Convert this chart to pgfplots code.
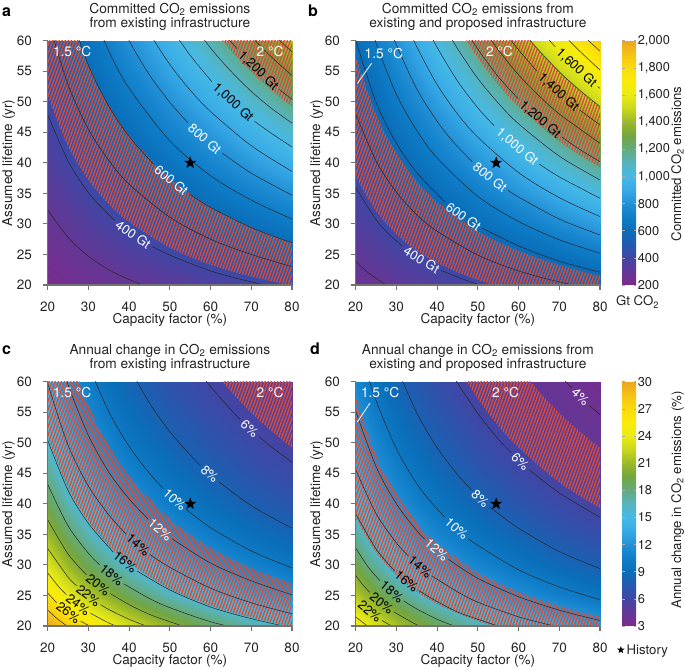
\documentclass[border=0pt]{standalone}
\usepackage{pgfplots}
\pgfplotsset{compat=1.18}
\usepackage{fontspec}
\setmainfont{TeX Gyre Heros}
\usetikzlibrary{patterns.meta}
\definecolor{txt}{RGB}{35,35,35}
\definecolor{axgray}{RGB}{115,115,115}
\definecolor{hatch}{RGB}{212,78,58}
\pgfdeclareplotmark{fstar}{%
  \pgfpathmoveto{\pgfpointpolar{90}{\pgfplotmarksize}}%
  \pgfpathlineto{\pgfpointpolar{126}{0.4\pgfplotmarksize}}%
  \pgfpathlineto{\pgfpointpolar{162}{\pgfplotmarksize}}%
  \pgfpathlineto{\pgfpointpolar{198}{0.4\pgfplotmarksize}}%
  \pgfpathlineto{\pgfpointpolar{234}{\pgfplotmarksize}}%
  \pgfpathlineto{\pgfpointpolar{270}{0.4\pgfplotmarksize}}%
  \pgfpathlineto{\pgfpointpolar{306}{\pgfplotmarksize}}%
  \pgfpathlineto{\pgfpointpolar{342}{0.4\pgfplotmarksize}}%
  \pgfpathlineto{\pgfpointpolar{18}{\pgfplotmarksize}}%
  \pgfpathlineto{\pgfpointpolar{54}{0.4\pgfplotmarksize}}%
  \pgfpathclose\pgfusepathqfill}
\pgfplotsset{
 colormap={nat}{rgb255=(125,42,140) rgb255=(100,55,150) rgb255=(65,70,165) rgb255=(35,90,175) rgb255=(10,110,185) rgb255=(15,125,200) rgb255=(35,145,215) rgb255=(55,170,230) rgb255=(70,185,230) rgb255=(85,180,190) rgb255=(100,170,125) rgb255=(115,165,65) rgb255=(155,185,40) rgb255=(200,215,30) rgb255=(235,235,20) rgb255=(250,235,10) rgb255=(250,220,10) rgb255=(245,195,20) rgb255=(235,165,35)},
 panel/.style={scale only axis, width=244.3pt, height=244.3pt,
  xmin=20, xmax=80, ymin=20, ymax=60, xtick={20,30,...,80}, ytick={20,25,...,60},
  axis lines*=left, axis line style={-, axgray, line width=1.3pt},
  tick style={axgray, line width=1.1pt}, tick align=outside, major tick length=5pt,
  axis on top, colormap name=nat,
  xlabel={Capacity factor (\%)}, ylabel={Assumed lifetime (yr)},
  label style={font=\fontsize{13.5}{14}\selectfont, text=txt},
  xlabel style={at={(axis description cs:0.5,-0.156)}, anchor=base},
  ylabel style={at={(axis description cs:-0.16,0.5)}, anchor=center},
  ticklabel style={font=\fontsize{13.5}{14}\selectfont, text=txt, inner sep=0pt},
  xticklabel style={anchor=north, yshift=-11.5pt},
  yticklabel style={anchor=east, xshift=-10.5pt},
  every axis title/.style={at={(0.5,1)}, anchor=south, inner sep=0pt, yshift=10.2pt, align=center, font=\fontsize{13.7}{14.3}\selectfont, text=txt},
  /pgf/number format/assume math mode=true},
 cbar/.style={colorbar, colorbar style={at={(parent axis.north east)}, anchor=north west, xshift=13.6pt, width=14pt, axis line style={draw=none}, tick align=inside, major tick length=2.5pt, tick style={axgray!60, line width=0.6pt}, scaled y ticks=false, yticklabel style={font=\fontsize{12.8}{14}\selectfont, text=txt, inner sep=0pt, xshift=1.5pt, anchor=west}, /pgf/number format/assume math mode=true, /pgf/number format/1000 sep={,}}},
 cl/.style={black!85, line width=0.5pt, smooth, no markers, forget plot},
 hatch/.style={draw=none, smooth, pattern={Lines[angle=70,distance=2.9pt,line width=1.35pt]}, pattern color=hatch, forget plot},
 heat/.style={surf, shader=interp, point meta=\thisrow{v}, forget plot},
}
\newcommand{\cl}[1]{\addplot[cl] coordinates {#1};}
\newcommand{\lab}[4]{\node[font=\fontsize{13}{13}\selectfont, inner sep=0pt, text=#4, rotate=#3] at (axis cs:#1) {#2};}
\newcommand{\tlab}[2]{\node[font=\fontsize{13.7}{13.7}\selectfont, inner sep=0pt, text=white] at (axis cs:#1) {#2};}
\begin{document}
\begin{tikzpicture}
\useasboundingbox (0,0) rectangle (685pt,669pt);
% ---------------- panel a
\begin{axis}[panel, at={(47.7pt,384pt)}, anchor=south west, point meta min=200, point meta max=2000,
 title={Committed CO\textsubscript{2} emissions\\from existing infrastructure}]
\addplot[heat, mesh/cols=7] table {
x y v
20 20 221.2
30 20 254.8
40 20 288.4
50 20 322.0
60 20 355.6
70 20 389.2
80 20 422.8
20 25 253.2
30 25 302.8
40 25 352.4
50 25 402.0
60 25 451.6
70 25 501.2
80 25 550.8
20 30 285.2
30 30 350.8
40 30 416.4
50 30 482.0
60 30 547.6
70 30 613.2
80 30 678.8
20 35 317.2
30 35 398.8
40 35 480.4
50 35 562.0
60 35 643.6
70 35 725.2
80 35 806.8
20 40 349.2
30 40 446.8
40 40 544.4
50 40 642.0
60 40 739.6
70 40 837.2
80 40 934.8
20 45 381.2
30 45 494.8
40 45 608.4
50 45 722.0
60 45 835.6
70 45 949.2
80 45 1062.8
20 50 413.2
30 50 542.8
40 50 672.4
50 50 802.0
60 50 931.6
70 50 1061.2
80 50 1190.8
20 55 445.2
30 55 590.8
40 55 736.4
50 55 882.0
60 55 1027.6
70 55 1173.2
80 55 1318.8
20 60 477.2
30 60 638.8
40 60 800.4
50 60 962.0
60 60 1123.6
70 60 1285.2
80 60 1446.8
};
\addplot[hatch] coordinates {(18,55.6) (20,51.0) (25,42.7) (30,37.2) (35,33.2) (40,30.3) (50,26.1) (60,23.3) (70,21.4) (80,19.9) (90,18.7) (90,25.1) (80,27.0) (70,29.5) (60,32.8) (50,37.5) (40,44.5) (35,49.5) (30,56.2) (25,65.5) (22,73.1)};
\addplot[hatch] coordinates {(52,70.65) (55,67.3) (60,62.5) (65,58.4) (70,54.9) (75,51.9) (80,49.25) (90,44.8) (100,41.3) (100,80) (52,80)};
\cl{(20,32.3) (25,27.8) (30,24.7) (35,22.5) (40,20.9) (45,19.6) (50,18.6)}
\cl{(20,47.9) (25,40.3) (30,35.1) (35,31.5) (36.4,30.6)}\cl{(45.7,26.3) (50,24.9) (60,22.3) (70,20.5) (80,19.1)}
\cl{(20,63.6) (25,52.8) (30,45.5) (35,40.4) (40,36.5) (50,31.1) (60,27.5) (70,25.0) (80,23.0)}
\cl{(25,65.3) (30,56.0) (35,49.3) (40,44.3) (46.0,39.8)}\cl{(54.8,34.9) (60,32.7) (70,29.4) (80,26.9)}
\cl{(30,66.4) (35,58.3) (40,52.2) (50,43.6) (60,37.9) (70,33.9) (80,30.8)}
\cl{(35,67.2) (40,60.0) (45,54.4) (50,49.9) (54.4,46.6)}\cl{(62.9,41.6) (70,38.3) (80,34.7)}
\cl{(40,67.8) (45,61.3) (50,56.1) (55,51.9) (60,48.4) (70,42.8) (80,38.6)}
\cl{(50,62.4) (55,57.6) (60.3,53.3)}\cl{(70.8,46.8) (75,44.8) (80,42.6)}
\cl{(55,63.3) (60,58.8) (65,55.0) (70,51.7) (75,48.9) (80,46.5)}
\cl{(60,64.0) (63.5,61.0) (66.5,58.7)}\cl{(76.9,52.0) (80,50.4)}
\cl{(65,64.6) (70,60.7) (75,57.3) (80,54.3)}
\cl{(75,61.4) (77.5,59.7) (80,58.2)}
\lab{41,28.25}{400 Gt}{-34.4}{white}
\lab{50.4,37.15}{600 Gt}{-39.4}{white}
\lab{58.6,43.95}{800 Gt}{-41.4}{white}
\lab{65.5,49.86}{1,000 Gt}{-42.7}{black}
\lab{71.7,55.09}{1,200 Gt}{-43.6}{black}
\tlab{26.0,58.2}{1.5 °C}
\tlab{74.6,58.2}{2 °C}
\addplot[only marks, mark=fstar, mark size=6.5pt, black, forget plot] coordinates {(55,40)};
\end{axis}
% ---------------- panel b
\begin{axis}[panel, at={(355.7pt,384pt)}, anchor=south west, point meta min=200, point meta max=2000,
 title={Committed CO\textsubscript{2} emissions from\\existing and proposed infrastructure},
 cbar, colorbar style={ytick={200,400,...,2000}}]
\addplot[heat, mesh/cols=7] table {
x y v
20 20 267.2
30 20 310.9
40 20 354.5
50 20 398.1
60 20 441.7
70 20 485.3
80 20 528.9
20 25 308.8
30 25 373.2
40 25 437.5
50 25 501.9
60 25 566.3
70 25 630.7
80 25 695.1
20 30 350.3
30 30 435.5
40 30 520.6
50 30 605.8
60 30 690.9
70 30 776.1
80 30 861.3
20 35 391.9
30 35 497.8
40 35 603.7
50 35 709.6
60 35 815.6
70 35 921.5
80 35 1027.4
20 40 433.4
30 40 560.1
40 40 686.8
50 40 813.5
60 40 940.2
70 40 1066.9
80 40 1193.6
20 45 474.9
30 45 622.4
40 45 769.9
50 45 917.3
60 45 1064.8
70 45 1212.3
80 45 1359.7
20 50 516.5
30 50 684.7
40 50 853.0
50 50 1021.2
60 50 1189.4
70 50 1357.7
80 50 1525.9
20 55 558.0
30 55 747.0
40 55 936.0
50 55 1125.0
60 55 1314.0
70 55 1503.0
80 55 1692.1
20 60 599.6
30 60 809.3
40 60 1019.1
50 60 1228.9
60 60 1438.7
70 60 1648.4
80 60 1858.2
};
\addplot[hatch] coordinates {(18,40.9) (20,37.75) (25,32.1) (30,28.3) (35,25.6) (40,23.6) (45,22.1) (50,20.8) (55,19.8) (60,18.9) (70,17.6) (90,15.8) (90,20.2) (80,21.5) (70,23.3) (60,25.6) (50,28.8) (40,33.6) (35,37.0) (30,41.6) (25,48.0) (20,57.65) (18,63.0)};
\addplot[hatch] coordinates {(40,69.1) (45,62.5) (50,57.2) (55,52.8) (60,49.2) (70,43.5) (80,39.3) (90,36.0) (90,44.8) (80,49.2) (75,51.9) (70,54.9) (65,58.4) (60,62.5) (55,67.3) (50,73.1)};
\cl{(20,23.9) (22.5,22.3) (25,21.1) (27.5,20.0) (30,19.1)}
\cl{(20,36.0) (25,30.7) (28.5,28.1) (31.4,26.4)}\cl{(41.0,22.4) (45,21.3) (50,20.1) (55,19.1)}
\cl{(20,48.0) (25,40.3) (30,35.2) (35,31.5) (40,28.8) (50,24.9) (60,22.3) (70,20.5) (80,19.1)}
\cl{(20,60.1) (25,49.9) (30,43.2) (35,38.4) (41.9,33.6)}\cl{(51.1,29.3) (60,26.4) (70,23.9) (80,22.1)}
\cl{(22.5,65.1) (25,59.6) (30,51.2) (35,45.3) (40,40.8) (50,34.5) (60,30.4) (70,27.4) (80,25.2)}
\cl{(27.5,63.8) (30,59.3) (35,52.1) (40,46.8) (44,43.4) (48.6,40.2)}\cl{(57.4,35.5) (60,34.4) (70,30.8) (80,28.2)}
\cl{(32.5,62.8) (35,59.0) (40,52.8) (45,48.0) (50,44.2) (60,38.4) (70,34.3) (80,31.2)}
\cl{(37.5,62.1) (40,58.9) (45,53.4) (50,49.0) (54.1,46.0)}\cl{(65.1,39.8) (70,37.7) (80,34.2)}
\cl{(42.5,61.6) (45,58.7) (50,53.8) (55,49.8) (60,46.4) (70,41.1) (80,37.2)}
\cl{(47.5,61.2) (50,58.6) (55,54.1) (59.9,50.5)}\cl{(70.7,44.2) (75,42.2) (80,40.2)}
\cl{(52.5,60.9) (55,58.5) (60,54.4) (65,51.0) (70,48.0) (80,43.2)}
\cl{(57.5,60.6) (60,58.5) (64.5,55.0)}\cl{(75.1,48.6) (80,46.2)}
\cl{(62.5,60.3) (65,58.4) (70,54.9) (75,51.9) (80,49.2)}
\cl{(67.5,60.1) (69.0,59.0)}\cl{(79.4,52.5) (80,52.2)}
\cl{(71,61.0) (75,58.3) (80,55.2)}
\cl{(76,60.8) (78,59.5) (80,58.3)}
\lab{36.2,24.13}{400 Gt}{-31.2}{white}
\lab{46.5,31.24}{600 Gt}{-35.0}{white}
\lab{53.0,37.66}{800 Gt}{-38.5}{white}
\lab{59.6,42.62}{1,000 Gt}{-39.8}{white}
\lab{65.3,47.10}{1,200 Gt}{-40.8}{black}
\lab{69.8,51.58}{1,400 Gt}{-42.1}{black}
\lab{74.2,55.57}{1,600 Gt}{-42.9}{black}
\tlab{26.9,57.9}{1.5 °C}
\tlab{55.3,58.2}{2 °C}
\addplot[white, line width=0.8pt, forget plot] coordinates {(23.9,56.3) (20.4,53.0)};
\addplot[only marks, mark=fstar, mark size=6.5pt, black, forget plot] coordinates {(54.5,40)};
\end{axis}
% ---------------- panel c
\begin{axis}[panel, at={(47.7pt,43pt)}, anchor=south west, point meta min=3, point meta max=30,
 title={Annual change in CO\textsubscript{2} emissions\\from existing infrastructure}]
\addplot[heat, mesh/cols=9] table {
x y v
20 20 30.06
25 20 27.94
30 20 26.10
35 20 24.48
40 20 23.06
50 20 20.65
60 20 18.70
70 20 17.09
80 20 15.73
20 25 26.26
25 25 23.92
30 25 21.96
35 25 20.30
40 25 18.87
50 25 16.54
60 25 14.73
70 25 13.27
80 25 12.07
20 30 23.32
25 30 20.91
30 30 18.96
35 30 17.34
40 30 15.97
50 30 13.80
60 30 12.14
70 30 10.84
80 30 9.80
20 35 20.96
25 35 18.58
30 35 16.67
35 35 15.13
40 35 13.84
50 35 11.83
60 35 10.33
70 35 9.17
80 35 8.24
20 40 19.04
25 40 16.71
30 40 14.88
35 40 13.42
40 40 12.22
50 40 10.36
60 40 8.99
70 40 7.94
80 40 7.11
20 45 17.44
25 45 15.18
30 45 13.44
35 45 12.06
40 45 10.93
50 45 9.21
60 45 7.96
70 45 7.01
80 45 6.26
20 50 16.09
25 50 13.91
30 50 12.25
35 50 10.94
40 50 9.89
50 50 8.29
60 50 7.14
70 50 6.27
80 50 5.58
20 55 14.94
25 55 12.84
30 55 11.26
35 55 10.02
40 55 9.03
50 55 7.54
60 55 6.47
70 55 5.67
80 55 5.04
20 60 13.94
25 60 11.92
30 60 10.41
35 60 9.24
40 60 8.31
50 60 6.91
60 60 5.92
70 60 5.17
80 60 4.60
};
\addplot[hatch] coordinates {(18,55.6) (20,51.0) (25,42.7) (30,37.2) (35,33.2) (40,30.3) (50,26.1) (60,23.3) (70,21.4) (80,19.9) (90,18.7) (90,25.1) (80,27.0) (70,29.5) (60,32.8) (50,37.5) (40,44.5) (35,49.5) (30,56.2) (25,65.5) (22,73.1)};
\addplot[hatch] coordinates {(52,70.65) (55,67.3) (60,62.5) (65,58.4) (70,54.9) (75,51.9) (80,49.25) (90,44.8) (100,41.3) (100,80) (52,80)};
\cl{(57.5,61.4) (60,59.2) (65,55.4) (67.3,53.8)}\cl{(71.9,51.0) (75,49.3) (80,46.8)}
\cl{(40,62.4) (45,56.5) (50,51.8) (55,48.0) (57.5,46.3)}\cl{(62.1,43.6) (70,39.7) (80,36.0)}
\cl{(30,62.7) (35,55.1) (40,49.4) (45,45.0) (48.4,42.5)}\cl{(54.0,39.1) (60,36.1) (70,32.3) (80,29.5)}
\cl{(22.5,65.1) (25,59.5) (30,51.2) (35,45.2) (40,40.8) (44.7,37.5)}\cl{(50.5,34.3) (60,30.3) (70,27.4) (80,25.1)}
\cl{(20,59.7) (25,49.6) (30,42.9) (35,38.2) (39.3,35.0)}\cl{(45.1,31.7) (50,29.6) (60,26.2) (70,23.8) (80,22.0)}
\cl{(20,50.4) (25,42.2) (30,36.8) (36.1,32.1)}\cl{(42.0,29.0) (50,25.9) (60,23.1) (70,21.2) (80,19.7)}
\cl{(20,43.2) (25,36.4) (30,31.9) (32.8,30.0)}\cl{(38.7,26.9) (45,24.5) (50,23.0) (60,20.7) (70,19.1)}
\cl{(20,37.4) (25,31.8) (29.5,28.4)}\cl{(35.4,25.3) (40,23.5) (45,21.9) (50,20.7) (55,19.6)}
\cl{(20,32.7) (25,28.0) (27.1,26.6)}\cl{(33.0,23.5) (35,22.7) (40,21.1) (45,19.8)}
\cl{(20,28.7) (22.5,26.6) (24.6,25.1)}\cl{(30.5,22.1) (35,20.5) (40,19.1)}
\cl{(20,25.4) (22.2,23.8)}\cl{(28.1,20.8) (30,20.1) (32.5,19.3)}
\cl{(20,22.6) (22.5,21.1) (25,19.9) (27.5,19.0)}
\lab{69.6,52.35}{6\%}{-42.7}{white}
\lab{59.8,44.89}{8\%}{-41.6}{white}
\lab{51.2,40.69}{10\%}{-42.4}{white}
\lab{47.6,35.77}{12\%}{-39.6}{white}
\lab{42.2,33.27}{14\%}{-40.2}{black}
\lab{39.0,30.46}{16\%}{-38.8}{black}
\lab{35.7,28.36}{18\%}{-38.4}{black}
\lab{32.4,26.72}{20\%}{-38.5}{black}
\lab{30.0,24.95}{22\%}{-37.6}{black}
\lab{27.5,23.49}{24\%}{-37.3}{black}
\lab{25.1,22.17}{26\%}{-37.1}{black}
\tlab{26.0,58.2}{1.5 °C}
\tlab{74.6,58.2}{2 °C}
\addplot[only marks, mark=fstar, mark size=6.5pt, black, forget plot] coordinates {(55,40)};
\end{axis}
% ---------------- panel d
\begin{axis}[panel, at={(355.7pt,43pt)}, anchor=south west, point meta min=3, point meta max=30,
 title={Annual change in CO\textsubscript{2} emissions from\\existing and proposed infrastructure},
 cbar, colorbar style={ytick={3,6,...,30}},
 legend style={at={(axis description cs:1.069,-0.098)}, anchor=west, draw=none, fill=none, inner sep=0pt, font=\fontsize{13.2}{14}\selectfont, text=txt}]
\addplot[heat, mesh/cols=9] table {
x y v
20 20 25.15
25 20 23.25
30 20 21.61
35 20 20.20
40 20 18.96
50 20 16.88
60 20 15.21
70 20 13.85
80 20 12.71
20 25 21.76
25 25 19.71
30 25 18.01
35 25 16.58
40 25 15.36
50 25 13.39
60 25 11.87
70 25 10.65
80 25 9.67
20 30 19.18
25 30 17.10
30 30 15.43
35 30 14.06
40 30 12.91
50 30 11.09
60 30 9.73
70 30 8.66
80 30 7.80
20 35 17.15
25 35 15.11
30 35 13.50
35 35 12.20
40 35 11.13
50 35 9.47
60 35 8.24
70 35 7.29
80 35 6.54
20 40 15.51
25 40 13.53
30 40 12.00
35 40 10.78
40 40 9.78
50 40 8.26
60 40 7.15
70 40 6.30
80 40 5.63
20 45 14.15
25 45 12.25
30 45 10.80
35 45 9.65
40 45 8.73
50 45 7.33
60 45 6.31
70 45 5.54
80 45 4.94
20 50 13.01
25 50 11.19
30 50 9.81
35 50 8.74
40 50 7.88
50 50 6.58
60 50 5.65
70 50 4.95
80 50 4.40
20 55 12.04
25 55 10.30
30 55 9.00
35 55 7.99
40 55 7.18
50 55 5.97
60 55 5.11
70 55 4.47
80 55 3.97
20 60 11.21
25 60 9.54
30 60 8.30
35 60 7.35
40 60 6.59
50 60 5.47
60 60 4.67
70 60 4.08
80 60 3.62
};
\addplot[hatch] coordinates {(18,40.9) (20,37.75) (25,32.1) (30,28.3) (35,25.6) (40,23.6) (45,22.1) (50,20.8) (55,19.8) (60,18.9) (70,17.6) (90,15.8) (90,20.2) (80,21.5) (70,23.3) (60,25.6) (50,28.8) (40,33.6) (35,37.0) (30,41.6) (25,48.0) (20,57.65) (18,63.0)};
\addplot[hatch] coordinates {(40,69.1) (45,62.5) (50,57.2) (55,52.8) (60,49.2) (70,43.5) (80,39.3) (90,36.0) (90,44.8) (80,49.2) (75,51.9) (70,54.9) (65,58.4) (60,62.5) (55,67.3) (50,73.1)};
\cl{(70,61.1) (73.0,59.0)}\cl{(77.4,56.1) (80,54.6)}
\cl{(42.5,62.7) (45,59.8) (50,54.8) (55,50.6) (58.2,48.4)}\cl{(62.6,45.6) (70,41.8) (80,37.8)}
\cl{(30,62.5) (35,54.9) (40,49.2) (45,44.8) (48.4,42.3)}\cl{(52.9,39.5) (60,36.0) (70,32.2) (80,29.4)}
\cl{(22.5,62.1) (25,56.9) (30,49.0) (35,43.3) (38.5,40.3) (41.9,37.8)}\cl{(47.7,34.3) (50,33.2) (60,29.2) (70,26.4) (80,24.3)}
\cl{(20,55.2) (25,46.1) (30,40.0) (35,35.6) (37.0,34.2)}\cl{(42.8,30.9) (50,27.8) (60,24.8) (70,22.6) (80,20.9)}
\cl{(20,45.6) (25,38.4) (30,33.6) (32.9,31.5)}\cl{(38.7,28.2) (45,25.6) (50,23.9) (60,21.5) (70,19.8)}
\cl{(20,38.4) (25,32.6) (29.6,29.0)}\cl{(35.5,25.8) (40,24.0) (45,22.3) (50,21.1) (55,20.0) (60,19.1)}
\cl{(20,32.8) (23,29.7) (26.0,27.4)}\cl{(31.8,24.1) (35,22.8) (40,21.1) (45,19.8)}
\cl{(20,28.3) (21.8,26.7) (23.5,25.5)}\cl{(29.4,22.3) (35,20.2) (40,18.9)}
\cl{(26.5,20.9) (27.5,20.5) (30,19.6)}
\cl{(20,21.5) (22.5,20.2) (25,19.1)}
\lab{75.2,57.52}{4\%}{-43.7}{white}
\lab{60.4,46.97}{6\%}{-42.9}{white}
\lab{50.6,40.9}{8\%}{-42.9}{white}
\lab{44.8,35.94}{10\%}{-41.5}{white}
\lab{39.9,32.43}{12\%}{-40.7}{white}
\lab{35.8,29.67}{14\%}{-40.2}{black}
\lab{32.5,27.28}{16\%}{-39.4}{black}
\lab{28.9,25.6}{18\%}{-39.9}{black}
\lab{26.4,23.72}{20\%}{-38.9}{black}
\lab{23.5,22.36}{22\%}{-39.4}{black}
\tlab{26.0,58.2}{1.5 °C}
\tlab{56.8,58.2}{2 °C}
\addplot[white, line width=0.8pt, forget plot] coordinates {(23.5,56.5) (20.4,53.4)};
\addplot[only marks, mark=fstar, mark size=6.5pt, black, forget plot] coordinates {(54.5,40)};
\addlegendimage{only marks, mark=fstar, mark size=4pt, black}
\addlegendentry{History}
\end{axis}
% ---------------- panel letters and colorbar labels
\node[anchor=base west, inner sep=0pt, font=\bfseries\fontsize{16}{16}\selectfont] at (2pt,652pt) {a};
\node[anchor=base west, inner sep=0pt, font=\bfseries\fontsize{16}{16}\selectfont] at (308pt,652pt) {b};
\node[anchor=base west, inner sep=0pt, font=\bfseries\fontsize{16}{16}\selectfont] at (2pt,314pt) {c};
\node[anchor=base west, inner sep=0pt, font=\bfseries\fontsize{16}{16}\selectfont] at (310pt,314pt) {d};
\node[rotate=90, inner sep=0pt, text=txt, font=\fontsize{13.2}{14}\selectfont] at (677.5pt,505pt) {Committed CO\textsubscript{2} emissions};
\node[anchor=base, inner sep=0pt, text=txt, font=\fontsize{13.2}{14}\selectfont] at (637.5pt,363pt) {Gt CO\textsubscript{2}};
\node[rotate=90, inner sep=0pt, text=txt, font=\fontsize{13.2}{14}\selectfont] at (677.5pt,169pt) {Annual change in CO\textsubscript{2} emissions (\%)};
\end{tikzpicture}
\end{document}
